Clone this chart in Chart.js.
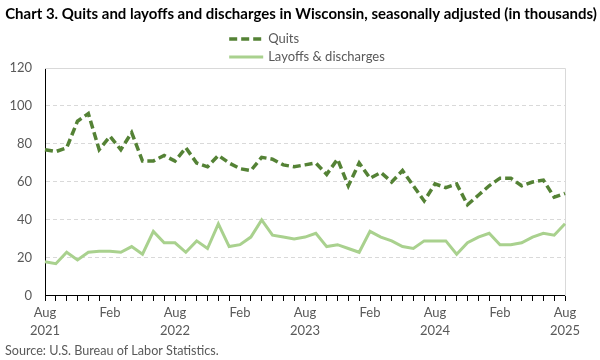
<!DOCTYPE html>
<html>
<head>
<meta charset="utf-8">
<script src="https://cdn.jsdelivr.net/npm/chart.js@4/dist/chart.umd.min.js"></script>
<style>
html,body{margin:0;padding:0;background:#fff;}
#wrap{position:relative;width:600px;height:360px;}
</style>
</head>
<body>
<div id="wrap"><canvas id="c" width="600" height="360"></canvas></div>
<script>
const categories = [
 "Aug 2021","Sep 2021","Oct 2021","Nov 2021","Dec 2021","Jan 2022","Feb 2022","Mar 2022","Apr 2022","May 2022","Jun 2022","Jul 2022",
 "Aug 2022","Sep 2022","Oct 2022","Nov 2022","Dec 2022","Jan 2023","Feb 2023","Mar 2023","Apr 2023","May 2023","Jun 2023","Jul 2023",
 "Aug 2023","Sep 2023","Oct 2023","Nov 2023","Dec 2023","Jan 2024","Feb 2024","Mar 2024","Apr 2024","May 2024","Jun 2024","Jul 2024",
 "Aug 2024","Sep 2024","Oct 2024","Nov 2024","Dec 2024","Jan 2025","Feb 2025","Mar 2025","Apr 2025","May 2025","Jun 2025","Jul 2025",
 "Aug 2025"
];
const quits = [
 77,76,78,92,96,77,84,77,86,71,71,74,
 71,78,70,68,74,70,67,66,73,72,69,68,
 69,70,64,72,58,70,62,65,60,66,58,50,
 59,57,59,48,53,58,62,62,58,60,61,52,
 54
];
const layoffs = [
 18,17,23,19,23,23.5,23.5,23,26,22,34,28,
 28,23,29,25,38,26,27,31,40,32,31,30,
 31,33,26,27,25,23,34,31,29,26,25,29,
 29,29,22,28,31,33,27,27,28,31,33,32,
 38
];
const seriesNames = ["Quits","Layoffs & discharges"];
const yTicks = {min:0, max:120, step:20};
const titleText = "Chart 3. Quits and layoffs and discharges in Wisconsin, seasonally adjusted (in thousands)";
const sourceText = "Source: U.S. Bureau of Labor Statistics.";

const FONT = "Lato, 'Liberation Sans', sans-serif";
const TXT = "#595959";

const frameTitleLegend = {
  id: 'frameTitleLegend',
  beforeDatasetsDraw(chart) {
    const {ctx, chartArea:a} = chart;
    ctx.save();
    ctx.strokeStyle = '#d9d9d9';
    ctx.lineWidth = 1;
    ctx.beginPath();
    ctx.moveTo(a.left, Math.round(a.top)+0.5);
    ctx.lineTo(Math.round(a.right)+0.5, Math.round(a.top)+0.5);
    ctx.lineTo(Math.round(a.right)+0.5, a.bottom);
    ctx.stroke();
    ctx.restore();
  },
  afterDraw(chart) {
    const {ctx, chartArea:a} = chart;
    ctx.save();
    // title
    ctx.font = "bold 15px " + FONT;
    const natural = ctx.measureText(titleText).width;
    const size = 15 * 592 / natural;
    ctx.font = "bold " + size.toFixed(2) + "px " + FONT;
    ctx.fillStyle = '#000';
    ctx.textAlign = 'center';
    ctx.textBaseline = 'middle';
    ctx.fillText(titleText, chart.width / 2 + 1, 14);
    // legend
    ctx.font = "13px " + FONT;
    const sampleW = 34, gap = 5;
    let maxW = 0;
    chart.data.datasets.forEach(d => { maxW = Math.max(maxW, ctx.measureText(d.label).width); });
    const total = sampleW + gap + maxW;
    const x0 = (a.left + a.right)/2 - total/2 + 2;
    const rows = [39, 57];
    chart.data.datasets.forEach((d, i) => {
      const y = rows[i];
      ctx.strokeStyle = d.borderColor;
      ctx.lineWidth = d.borderWidth;
      ctx.setLineDash(d.borderDash || []);
      ctx.beginPath();
      ctx.moveTo(x0, y);
      ctx.lineTo(x0 + sampleW, y);
      ctx.stroke();
      ctx.setLineDash([]);
      ctx.fillStyle = TXT;
      ctx.textBaseline = 'middle';
      ctx.textAlign = 'left';
      ctx.fillText(d.label, x0 + sampleW + gap, y);
    });
    ctx.restore();
  }
};

new Chart(document.getElementById('c'), {
  type: 'line',
  data: {
    labels: categories,
    datasets: [
      {label: seriesNames[0], data: quits, borderColor: '#548235', backgroundColor:'#548235', borderWidth: 3.5, borderDash: [8,4], pointRadius: 0, tension: 0, fill: false},
      {label: seriesNames[1], data: layoffs, borderColor: '#A9D18E', backgroundColor:'#A9D18E', borderWidth: 3, pointRadius: 0, tension: 0, fill: false}
    ]
  },
  plugins: [frameTitleLegend],
  options: {
    responsive: false,
    animation: false,
    layout: {padding: {left: 5, right: 35, top: 68, bottom: 0}},
    plugins: {
      legend: {display: false},
      tooltip: {enabled: false},
      title: {display: false},
      subtitle: {display: true, text: sourceText, position: 'bottom', align: 'start', color: TXT,
        font: {family: FONT, size: 12.6}, padding: {top: 0, bottom: 1.5}}
    },
    scales: {
      x: {
        type: 'category',
        offset: false,
        grid: {display: true, drawOnChartArea: false, drawTicks: true, tickLength: 5, color: '#000', offset: false},
        border: {display: true, color: '#000', width: 1},
        ticks: {
          autoSkip: false, maxRotation: 0, minRotation: 0, padding: 3, color: TXT,
          font: {family: FONT, size: 13, lineHeight: 1.38},
          callback: function(v, i) {
            const parts = categories[i].split(' ');
            if (parts[0] === 'Aug') return [parts[0], parts[1]];
            if (parts[0] === 'Feb') return parts[0];
            return '';
          }
        },
        afterFit(scale) { scale.height = 47.4; }
      },
      y: {
        min: yTicks.min, max: yTicks.max,
        grid: {color: '#d9d9d9', drawTicks: false, lineWidth: 1},
        border: {display: true, color: '#000', width: 1, dash: [4,3]},
        ticks: {stepSize: yTicks.step, padding: 13, color: TXT, font: {family: FONT, size: 13}},
        afterFit(scale) { scale.width = 40; }
      }
    }
  }
});
</script>
</body>
</html>
